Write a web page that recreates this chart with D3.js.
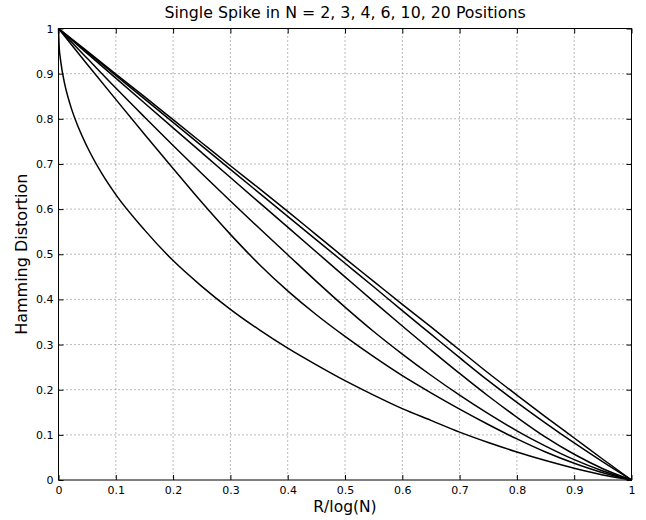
<!DOCTYPE html>
<html>
<head>
<meta charset="utf-8">
<script src="https://cdn.jsdelivr.net/npm/d3@7"></script>
<style>
  html, body { margin: 0; padding: 0; background: #fff; }
  svg { display: block; font-family: "DejaVu Sans", sans-serif; }
</style>
</head>
<body>
<svg id="chart" width="646" height="520"></svg>
<script>
// ---- data ----
const titleText = "Single Spike in N = 2, 3, 4, 6, 10, 20 Positions";
const xLabelText = "R/log(N)";
const yLabelText = "Hamming Distortion";
const tickValues = [0, 0.1, 0.2, 0.3, 0.4, 0.5, 0.6, 0.7, 0.8, 0.9, 1];
const tickLabels = ["0", "0.1", "0.2", "0.3", "0.4", "0.5", "0.6", "0.7", "0.8", "0.9", "1"];

const rates = [0, 0.05, 0.1, 0.15, 0.2, 0.25, 0.3, 0.35, 0.4, 0.45, 0.5,
               0.55, 0.6, 0.65, 0.7, 0.75, 0.8, 0.85, 0.9, 0.95, 1];
const ratesN2 = [0, 0.001, 0.003, 0.006, 0.01, 0.02, 0.035, 0.05, 0.075, 0.1, 0.15, 0.2, 0.25,
                 0.3, 0.35, 0.4, 0.45, 0.5, 0.55, 0.6, 0.65, 0.7, 0.75, 0.8, 0.85, 0.9, 0.95, 1];
const distN2 = [1, 0.963, 0.936, 0.909, 0.882, 0.833, 0.780, 0.738, 0.680, 0.632, 0.554, 0.486, 0.429,
                0.378, 0.333, 0.292, 0.255, 0.220, 0.188, 0.158, 0.132, 0.106, 0.083, 0.062, 0.043, 0.026, 0.011, 0];
const distN3 = [1, 0.921, 0.843, 0.766, 0.690, 0.615, 0.544, 0.478, 0.419, 0.366, 0.318,
                0.273, 0.231, 0.193, 0.157, 0.123, 0.091, 0.062, 0.037, 0.016, 0];
const distN4 = [1, 0.934, 0.868, 0.804, 0.741, 0.679, 0.618, 0.558, 0.499, 0.440, 0.383,
                0.329, 0.279, 0.232, 0.188, 0.147, 0.109, 0.075, 0.045, 0.020, 0];
const distN6 = [1, 0.945, 0.890, 0.835, 0.780, 0.725, 0.670, 0.615, 0.560, 0.505, 0.450,
                0.395, 0.341, 0.288, 0.236, 0.186, 0.139, 0.095, 0.057, 0.025, 0];
const distN10 = [1, 0.948, 0.896, 0.844, 0.792, 0.740, 0.688, 0.636, 0.584, 0.532, 0.480,
                 0.428, 0.375, 0.323, 0.271, 0.220, 0.172, 0.126, 0.082, 0.040, 0];
const distN20 = [1, 0.950, 0.899, 0.849, 0.798, 0.747, 0.696, 0.646, 0.595, 0.543, 0.491,
                 0.440, 0.389, 0.339, 0.288, 0.237, 0.188, 0.140, 0.093, 0.046, 0];

// ---- layout ----
const margin = { left: 58.5, top: 28.5 };
const pw = 573, ph = 451.5;

const svg = d3.select("#chart");
const g = svg.append("g").attr("transform", `translate(${margin.left},${margin.top})`);

const x = d3.scaleLinear().domain([0, 1]).range([0, pw]);
const y = d3.scaleLinear().domain([0, 1]).range([ph, 0]);

// grid (dotted)
const inner = tickValues.filter(v => v > 0 && v < 1);
g.append("g").selectAll("line").data(inner).join("line")
  .attr("x1", d => x(d)).attr("x2", d => x(d)).attr("y1", 0).attr("y2", ph)
  .attr("stroke", "#777").attr("stroke-width", 1).attr("stroke-dasharray", "1,3");
g.append("g").selectAll("line").data(inner).join("line")
  .attr("y1", d => y(d)).attr("y2", d => y(d)).attr("x1", 0).attr("x2", pw)
  .attr("stroke", "#777").attr("stroke-width", 1).attr("stroke-dasharray", "1,3");

// axes: inward ticks on all four sides
const fmt = d => tickLabels[tickValues.indexOf(d)];
function styleAxis(sel) {
  sel.select(".domain").remove();
  sel.selectAll(".tick line").attr("stroke", "#000").attr("stroke-width", 1);
  sel.selectAll("text").attr("font-family", "DejaVu Sans, sans-serif")
     .attr("font-size", 11).attr("fill", "#000");
}
g.append("g").attr("transform", `translate(0,${ph})`)
  .call(d3.axisBottom(x).tickValues(tickValues).tickFormat(fmt).tickSize(-5).tickPadding(6))
  .call(styleAxis);
g.append("g")
  .call(d3.axisTop(x).tickValues(tickValues).tickFormat("").tickSize(-5))
  .call(styleAxis);
g.append("g")
  .call(d3.axisLeft(y).tickValues(tickValues).tickFormat(fmt).tickSize(-5).tickPadding(5))
  .call(styleAxis);
g.append("g").attr("transform", `translate(${pw},0)`)
  .call(d3.axisRight(y).tickValues(tickValues).tickFormat("").tickSize(-5))
  .call(styleAxis);

// frame
g.append("rect").attr("x", 0).attr("y", 0).attr("width", pw).attr("height", ph)
  .attr("fill", "none").attr("stroke", "#000").attr("stroke-width", 1);

// curves
const series = [
  { r: ratesN2, d: distN2 },
  { r: rates, d: distN3 },
  { r: rates, d: distN4 },
  { r: rates, d: distN6 },
  { r: rates, d: distN10 },
  { r: rates, d: distN20 }
];
const line = d3.line().x(p => x(p[0])).y(p => y(p[1])).curve(d3.curveMonotoneX);
g.append("g").selectAll("path").data(series).join("path")
  .attr("d", s => line(s.r.map((v, i) => [v, s.d[i]])))
  .attr("fill", "none").attr("stroke", "#000").attr("stroke-width", 1.5)
  .attr("stroke-linejoin", "round");

// title & labels
svg.append("text").attr("x", margin.left + pw / 2).attr("y", 17.5)
  .attr("text-anchor", "middle").attr("font-size", 15.8).text(titleText);
svg.append("text").attr("x", margin.left + pw / 2).attr("y", 512)
  .attr("text-anchor", "middle").attr("font-size", 15.5).text(xLabelText);
svg.append("text").attr("transform", `translate(26.5,${margin.top + ph / 2}) rotate(-90)`)
  .attr("text-anchor", "middle").attr("font-size", 16).text(yLabelText);
</script>
</body>
</html>
